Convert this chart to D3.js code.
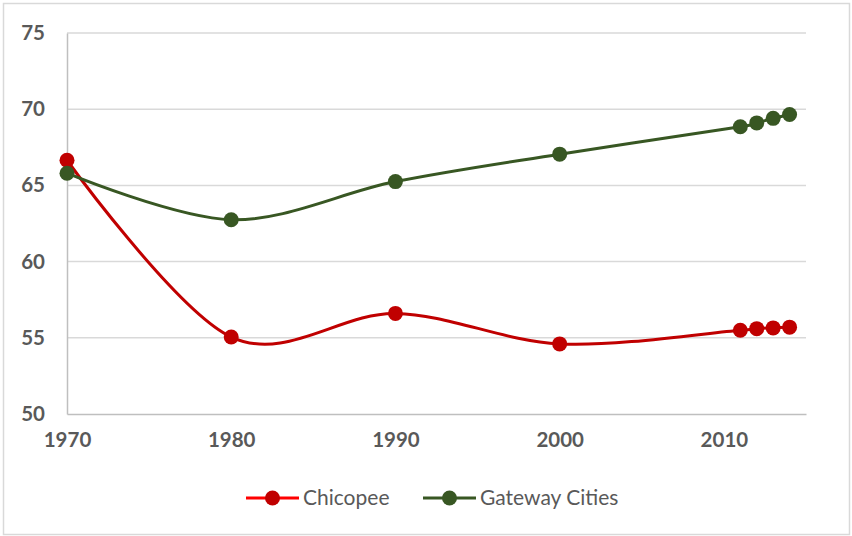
<!DOCTYPE html>
<html>
<head>
<meta charset="utf-8">
<script src="https://cdn.jsdelivr.net/npm/d3@7"></script>
<style>
  body { margin: 0; background: #fff; }
  text { font-family: Lato, "Open Sans", sans-serif; }
</style>
</head>
<body>
<div id="chart-area"></div>
<script>
// data
let years = [1970, 1980, 1990, 2000, 2011, 2012, 2013, 2014];
let chicopee = [66.65, 55.05, 56.6, 54.6, 55.5, 55.6, 55.65, 55.7];
let gateway = [65.8, 62.75, 65.25, 67.05, 68.85, 69.1, 69.4, 69.65];
let xTicks = [1970, 1980, 1990, 2000, 2010];
let yTicks = [50, 55, 60, 65, 70, 75];
let seriesNames = ["Chicopee", "Gateway Cities"];
let seriesColors = ["#c00000", "#385723"];
let legendLineColors = ["#ff0000", "#385723"];

let W = 852, H = 536;
let margin = {top: 33, right: 46, bottom: 122, left: 67};
let width = W - margin.left - margin.right,
    height = H - margin.top - margin.bottom;

let root = d3.select("#chart-area").append("svg")
    .attr("width", W)
    .attr("height", H);

// outer border
root.append("rect")
    .attr("x", 3.5).attr("y", 3.5)
    .attr("width", W - 6).attr("height", H - 5)
    .attr("fill", "none")
    .attr("stroke", "#d9d9d9")
    .attr("stroke-width", 1.5);

let svg = root.append("g")
    .attr("transform", "translate(" + margin.left + "," + margin.top + ")");

let x = d3.scaleLinear().domain([1970, 2015]).range([0, width]);
let y = d3.scaleLinear().domain([50, 75]).range([height, 0]);

// gridlines
svg.selectAll(".grid")
    .data(yTicks.filter(d => d > 50))
    .enter().append("line")
    .attr("class", "grid")
    .attr("x1", 0).attr("x2", width)
    .attr("y1", d => y(d)).attr("y2", d => y(d))
    .attr("stroke", "#d9d9d9")
    .attr("stroke-width", 1.5);

// axes
let xAxis = d3.axisBottom(x).tickValues(xTicks).tickFormat(d3.format("d")).tickSize(0).tickPadding(20);
let yAxis = d3.axisLeft(y).tickValues(yTicks).tickSize(0).tickPadding(22);

let xAxisGroup = svg.append("g")
    .attr("transform", "translate(0," + height + ")")
    .call(xAxis);
let yAxisGroup = svg.append("g").call(yAxis);

[xAxisGroup, yAxisGroup].forEach(function (g) {
    g.select(".domain").attr("stroke", "#bfbfbf").attr("stroke-width", 1.5);
    g.selectAll("text")
        .attr("fill", "#595959")
        .style("font-size", "20.5px")
        .style("font-weight", "bold");
});
xAxisGroup.selectAll("text").attr("dy", "0.65em");

// lines + markers
let line = d3.line()
    .curve(d3.curveCardinal.tension(0))
    .x(d => x(d.year))
    .y(d => y(d.value));

[chicopee, gateway].forEach(function (vals, i) {
    let pts = years.map((yr, j) => ({year: yr, value: vals[j]}));
    svg.append("path")
        .datum(pts)
        .attr("fill", "none")
        .attr("stroke", seriesColors[i])
        .attr("stroke-width", 3)
        .attr("d", line);
});

[chicopee, gateway].forEach(function (vals, i) {
    let pts = years.map((yr, j) => ({year: yr, value: vals[j]}));
    svg.selectAll(".dot" + i)
        .data(pts)
        .enter().append("circle")
        .attr("class", "dot" + i)
        .attr("cx", d => x(d.year))
        .attr("cy", d => y(d.value))
        .attr("r", 7.5)
        .style("fill", seriesColors[i]);
});

// legend
let legendX = [246, 423];
let legend = root.append("g").attr("transform", "translate(0,498)");
seriesNames.forEach(function (name, i) {
    let g = legend.append("g").attr("transform", "translate(" + legendX[i] + ",0)");
    g.append("line")
        .attr("x1", 0).attr("x2", 53)
        .attr("stroke", legendLineColors[i])
        .attr("stroke-width", 3);
    g.append("circle")
        .attr("cx", 26.5).attr("r", 7.5)
        .style("fill", seriesColors[i]);
    g.append("text")
        .attr("x", 57).attr("y", 0)
        .attr("dy", "0.35em")
        .attr("fill", "#595959")
        .style("font-size", "21px")
        .text(name);
});
</script>
</body>
</html>
